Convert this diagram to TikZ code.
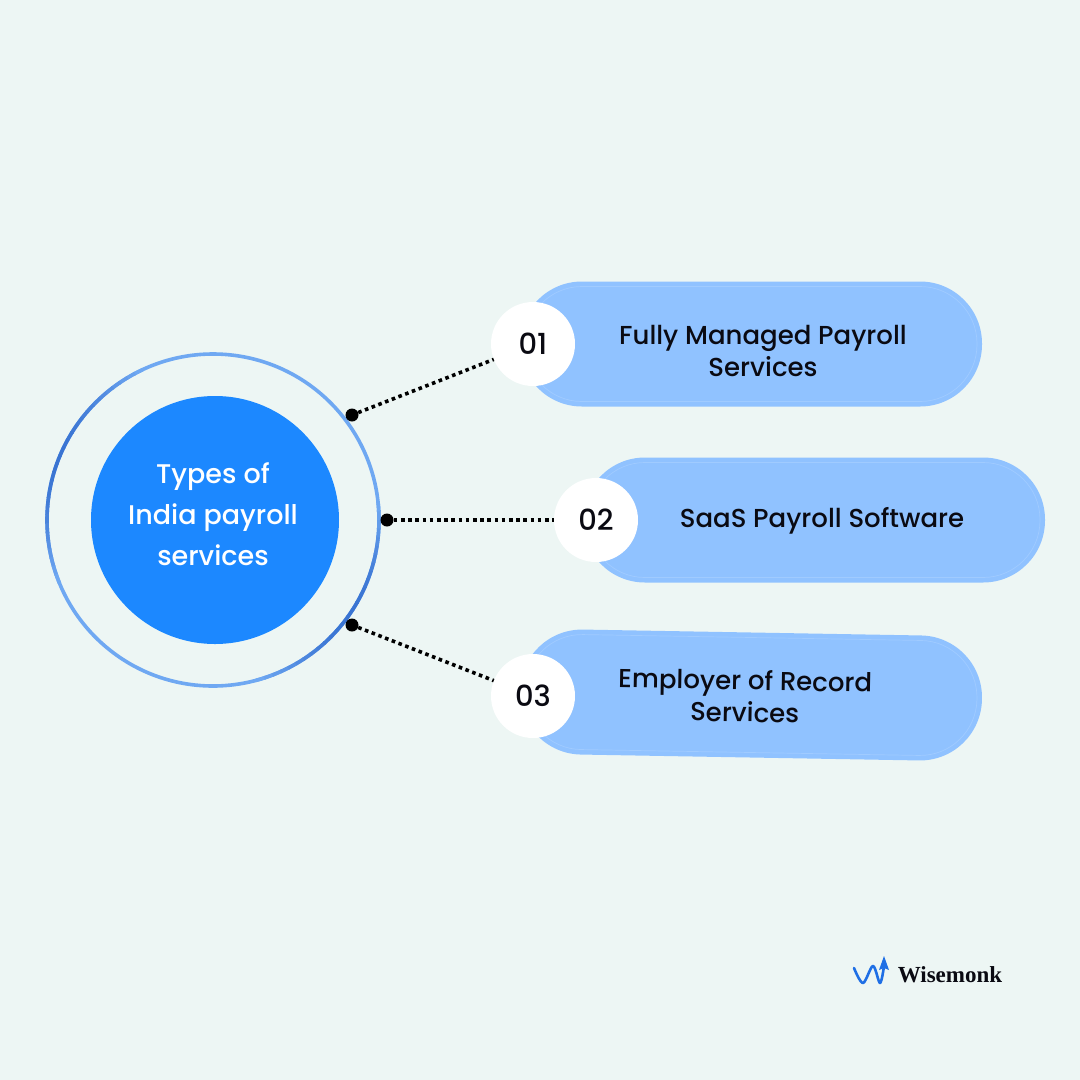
\documentclass[tikz,border=0pt]{standalone}
\usepackage{fontspec}
\setmainfont{Poppins Medium}
\newfontfamily\logofont{Liberation Serif}
\definecolor{bgmint}{HTML}{EDF6F4}
\definecolor{hubblue}{HTML}{1C88FF}
\definecolor{pillblue}{HTML}{90C2FF}
\definecolor{ringblue}{HTML}{6FA8F2}
\definecolor{ringdark}{HTML}{3A74D2}
\definecolor{logoblue}{HTML}{1F6FE5}
\definecolor{inkblack}{HTML}{0A0A12}
\begin{document}
\begin{tikzpicture}[x=1pt, y=-1pt,
  pill/.style={fill=pillblue, rounded corners=62pt, minimum width=462pt, minimum height=125pt, inner sep=0pt},
  pilledge/.style={draw=white, draw opacity=.15, line width=.7pt, rounded corners=57pt, minimum width=452pt, minimum height=115pt, inner sep=0pt},
  badge/.style={circle, fill=white, minimum size=84pt, inner sep=0pt, text=inkblack, font=\fontsize{29}{32}\selectfont},
  pt/.style={circle, fill=black, minimum size=13pt, inner sep=0pt},
  dotline/.style={line width=3.6pt, black, dash pattern=on 3.6pt off 3.6pt},
  lbl/.style={text=inkblack, align=center, font=\fontsize{26}{32}\selectfont}]
  \useasboundingbox[fill=bgmint] (0,0) rectangle (1080,1080);
  % hub
  \node[circle, draw=ringblue, line width=3.6pt, minimum size=332pt, inner sep=0pt] (ring) at (213,520) {};
  \foreach \a in {-75,-72,...,3,115,118,...,199} {
    \pgfmathsetmacro{\p}{100*sin(mod(\a+75,190)*180/(\a<50?78:84))}
    \draw[ringdark!\p!ringblue, line width=3.6pt] (ring.center) ++(\a:166pt) arc[start angle=\a, end angle=\a+3.4, radius=166pt];
  }
  \node[circle, fill=hubblue, minimum size=248pt, inner sep=0pt] (hub) at (215,520) {};
  \node[text=white, align=center, font=\fontsize{27}{41}\selectfont] (title) at (213,514) {Types of\\India payroll\\services};
  % pills
  \node[pill] (p1) at (751,344) {};
  \node[pilledge] (e1) at (751,344) {};
  \node[pill] (p2) at (814,520) {};
  \node[pilledge] (e2) at (814,520) {};
  \node[pill, rotate=-1] (p3) at (751,695) {};
  \node[pilledge, rotate=-1] (e3) at (751,695) {};
  \node[lbl] (t1) at (763,351) {Fully Managed Payroll\\Services};
  \node[lbl] (t2) at (822,521) {SaaS Payroll Software};
  \node[lbl, rotate=-1] (t3) at (745,696) {Employer of Record\\Services};
  % numbers
  \node[badge] (b1) at (533,344) {01};
  \node[badge] (b2) at (596,520) {02};
  \node[badge] (b3) at (533,696) {03};
  \node[pt] (d1) at (352,415) {};
  \node[pt] (d2) at (387,520) {};
  \node[pt] (d3) at (352,625) {};
  \draw[dotline] (d1) -- (b1);
  \draw[dotline] (d2) -- (b2);
  \draw[dotline] (d3) -- (b3);
  % logo
  \draw[logoblue, line width=2.6pt, line cap=round, line join=round] plot[smooth, tension=.55] coordinates {(854,968) (863,983) (873,966) (880,983) (884,966)};
  \fill[logoblue] (884,956) -- (889,970) -- (884,968) -- (879,970) -- cycle;
  \node[text=inkblack, font=\logofont\bfseries\fontsize{23}{24}\selectfont] (brand) at (950,975) {Wisemonk};
\end{tikzpicture}
\end{document}
